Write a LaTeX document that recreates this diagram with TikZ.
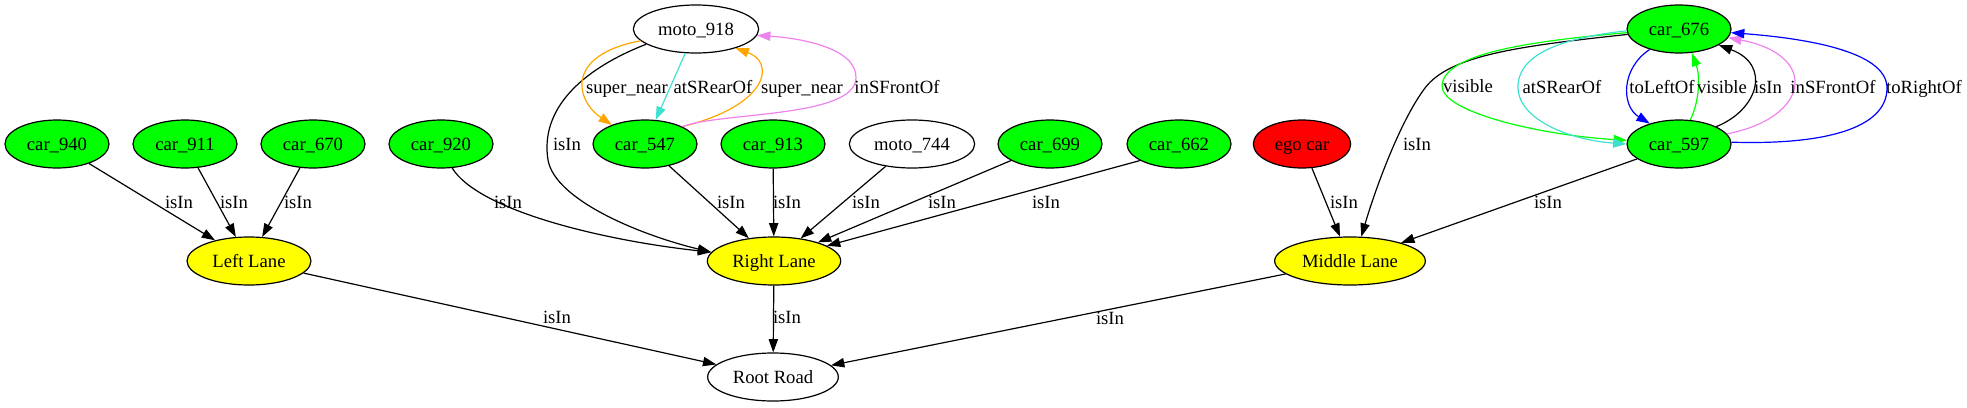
\documentclass[tikz,border=0pt]{standalone}
\usepackage{fontspec}
\setmainfont{Liberation Serif}
\usetikzlibrary{shapes.geometric,arrows.meta}
\definecolor{gvgreen}{RGB}{0,255,0}
\definecolor{gvyellow}{RGB}{255,255,0}
\definecolor{gvred}{RGB}{255,0,0}
\definecolor{gvorange}{RGB}{255,165,0}
\definecolor{gvturq}{RGB}{64,224,208}
\definecolor{gvviolet}{RGB}{238,130,238}
\definecolor{gvblue}{RGB}{0,0,255}
\begin{document}
\begin{tikzpicture}[x=0.75pt,y=0.75pt,
  every node/.style={font=\fontsize{14}{16}\selectfont,text height=9pt,text depth=0pt},
  vnode/.style={ellipse,draw=black,line width=0.9pt,inner sep=0pt,minimum height=36pt,minimum width=78pt},
  carnode/.style={vnode,fill=gvgreen},
  lane/.style={vnode,fill=gvyellow},
  edge/.style={line width=0.9pt,-{Triangle[length=10pt,width=7pt]}},
  lbl/.style={inner sep=0pt}]
\useasboundingbox (0,0) rectangle (1967,-407);
% nodes
\node[vnode,minimum width=94pt] (moto918) at (696,-29) {moto\_918};
\node[carnode] (car676) at (1679,-29) {car\_676};
\node[carnode] (car940) at (57,-144) {car\_940};
\node[carnode] (car911) at (185,-144) {car\_911};
\node[carnode] (car670) at (313,-144) {car\_670};
\node[carnode] (car920) at (441,-144) {car\_920};
\node[carnode] (car547) at (645,-144) {car\_547};
\node[carnode] (car913) at (773,-144) {car\_913};
\node[vnode,minimum width=94pt] (moto744) at (912,-144) {moto\_744};
\node[carnode] (car699) at (1050,-144) {car\_699};
\node[carnode] (car662) at (1179,-144) {car\_662};
\node[vnode,fill=gvred,minimum width=73pt] (ego) at (1302,-144) {ego car};
\node[carnode] (car597) at (1679,-144) {car\_597};
\node[lane,minimum width=93pt] (left) at (249,-261) {Left Lane};
\node[lane,minimum width=100pt] (right) at (774,-261) {Right Lane};
\node[lane,minimum width=113pt] (middle) at (1350,-261) {Middle Lane};
\node[vnode,minimum width=98pt] (root) at (773,-377) {Root Road};
% black isIn edges
\draw[edge] (car940) -- (left);
\draw[edge] (car911) -- (left);
\draw[edge] (car670) -- (left);
\draw[edge] (car920.-65) .. controls (478,-210) and (600,-240) .. (right.172);
\draw[edge] (moto918.197) .. controls (580,-70) and (540,-110) .. (548,-160) .. controls (555,-200) and (640,-235) .. (right.172);
\draw[edge] (car547) -- (right);
\draw[edge] (car913) -- (right);
\draw[edge] (moto744) -- (right);
\draw[edge] (car699) -- (right);
\draw[edge] (car662.203) -- (right.16);
\draw[edge] (ego) -- (middle);
\draw[edge] (car597) -- (middle);
\draw[edge] (car676.186) .. controls (1520,-46) and (1450,-55) .. (1425,-88) .. controls (1400,-121) and (1375,-190) .. (middle.65);
\draw[edge] (left) -- (root);
\draw[edge] (right) -- (root);
\draw[edge] (middle) -- (root);
% moto_918 / car_547
\draw[edge,gvorange] (moto918.192) .. controls (565,-55) and (575,-100) .. (car547.150);
\draw[edge,gvturq] (moto918) -- (car547);
\draw[edge,gvorange] (car547.25) .. controls (770,-105) and (775,-62) .. (moto918.-26);
\draw[edge,gvviolet] (car547.25) .. controls (720,-112) and (855,-118) .. (856,-78) .. controls (857,-48) and (800,-38) .. (moto918.-6);
% car_676 / car_597
\draw[edge,gvgreen] (car676.184) .. controls (1520,-42) and (1445,-55) .. (1442,-85) .. controls (1440,-112) and (1540,-135) .. (car597.176);
\draw[edge,gvturq] (car676.182) .. controls (1560,-38) and (1517,-55) .. (1518,-88) .. controls (1519,-120) and (1570,-140) .. (car597.180);
\draw[edge,gvblue] (car676.215) .. controls (1621,-68) and (1621,-106) .. (car597.145);
\draw[edge,gvgreen] (car597.65) .. controls (1700,-100) and (1700,-75) .. (car676.-62);
\draw[edge] (car597.25) .. controls (1758,-110) and (1772,-65) .. (car676.-22);
\draw[edge,gvviolet] (car597.12) .. controls (1810,-118) and (1820,-55) .. (car676.-10);
\draw[edge,gvblue] (car597.2) .. controls (1820,-145) and (1887,-130) .. (1887,-88) .. controls (1887,-50) and (1800,-38) .. (car676.-4);
% labels
\node[lbl] (l1) at (179,-202) {isIn};
\node[lbl] (l2) at (234,-202) {isIn};
\node[lbl] (l3) at (298,-202) {isIn};
\node[lbl] (l4) at (508,-202) {isIn};
\node[lbl] (l5) at (567,-144) {isIn};
\node[lbl] (l6) at (731,-202) {isIn};
\node[lbl] (l7) at (787,-202) {isIn};
\node[lbl] (l8) at (866,-202) {isIn};
\node[lbl] (l9) at (942,-202) {isIn};
\node[lbl] (l10) at (1046,-202) {isIn};
\node[lbl] (l11) at (1344,-202) {isIn};
\node[lbl] (l12) at (1417,-144) {isIn};
\node[lbl] (l13) at (1548,-202) {isIn};
\node[lbl] (l14) at (557,-317) {isIn};
\node[lbl] (l15) at (787,-317) {isIn};
\node[lbl] (l16) at (1110,-318) {isIn};
\node[lbl] (l17) at (627,-87) {super\_near};
\node[lbl] (l18) at (713,-87) {atSRearOf};
\node[lbl] (l19) at (802,-87) {super\_near};
\node[lbl] (l20) at (897,-87) {inSFrontOf};
\node[lbl] (l21) at (1468,-86) {visible};
\node[lbl] (l22) at (1562,-87) {atSRearOf};
\node[lbl] (l23) at (1662,-87) {toLeftOf};
\node[lbl] (l24) at (1722,-87) {visible};
\node[lbl] (l25) at (1768,-87) {isIn};
\node[lbl] (l26) at (1833,-87) {inSFrontOf};
\node[lbl] (l27) at (1924,-87) {toRightOf};
\end{tikzpicture}
\end{document}
